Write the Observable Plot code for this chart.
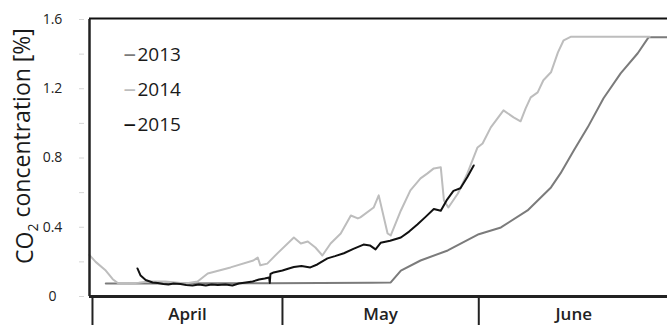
<!DOCTYPE html>
<html><head><meta charset="utf-8">
<script src="https://cdn.jsdelivr.net/npm/d3@7"></script>
<script src="https://cdn.jsdelivr.net/npm/@observablehq/plot@0.6"></script>
<style>body{margin:0;background:#fff}svg{display:block}</style>
</head><body><div id="chart"></div>
<script>
const years = ["2013", "2014", "2015"];
const colors = ["#7b7b7b", "#bdbdbd", "#111111"];

// day 0 = 1 April
const days2013 = [2.1, 10, 20, 28.1, 36, 44, 47.1, 48.7, 51.8, 56.1, 61.0, 64.5, 68.7, 72.4, 73.9, 76.0, 78.2, 80.7, 83.4, 86.1, 87.8, 90.8];
const co2_2013 = [0.075, 0.075, 0.076, 0.077, 0.078, 0.08, 0.081, 0.15, 0.208, 0.266, 0.36, 0.399, 0.497, 0.63, 0.711, 0.844, 0.977, 1.145, 1.289, 1.405, 1.497, 1.497];

const days2014 = [-0.5, 0.5, 2.1, 3.2, 4.1, 5.7, 7.3, 8.8, 11.5, 14.7, 16.6, 18.2, 21.8, 25.4, 26.1, 26.5, 27.6, 29.2, 31.8, 32.9, 34.0, 35.2, 36.3, 37.6, 39.2, 40.8, 41.9, 42.3, 44.4, 45.2, 46.6, 47.1, 48.7, 50.2, 51.8, 52.9, 53.9, 55.0, 55.5, 56.2, 57.7, 59.2, 60.8, 61.6, 62.9, 64.9, 66.5, 67.6, 68.4, 69.2, 70.3, 71.2, 72.4, 73.5, 74.4, 75.5, 88.0];
const co2_2014 = [0.24, 0.20, 0.15, 0.10, 0.075, 0.075, 0.08, 0.087, 0.087, 0.075, 0.087, 0.133, 0.168, 0.208, 0.225, 0.18, 0.19, 0.249, 0.341, 0.306, 0.318, 0.283, 0.237, 0.306, 0.364, 0.468, 0.451, 0.457, 0.514, 0.584, 0.364, 0.353, 0.497, 0.613, 0.682, 0.711, 0.74, 0.746, 0.555, 0.514, 0.595, 0.711, 0.861, 0.884, 0.977, 1.075, 1.035, 1.012, 1.087, 1.15, 1.179, 1.249, 1.295, 1.41, 1.48, 1.5, 1.5];

const days2015 = [7.1, 7.6, 8.4, 9.5, 10.3, 11.2, 12.0, 12.8, 13.9, 14.8, 15.8, 16.8, 17.9, 18.8, 19.8, 21.0, 22.1, 23.1, 24.2, 25.3, 26.3, 27.2, 27.9, 28.0, 28.1, 28.6, 30.0, 31.0, 31.8, 33.0, 34.4, 35.5, 37.1, 38.3, 39.7, 41.2, 42.8, 43.8, 44.7, 45.5, 47.0, 48.7, 50.0, 51.3, 52.6, 53.9, 55.0, 56.0, 57.0, 58.1, 59.2, 60.2];
const co2_2015 = [0.162, 0.121, 0.095, 0.081, 0.078, 0.072, 0.069, 0.075, 0.072, 0.066, 0.064, 0.069, 0.064, 0.069, 0.066, 0.069, 0.064, 0.075, 0.081, 0.087, 0.098, 0.104, 0.11, 0.078, 0.13, 0.139, 0.15, 0.162, 0.17, 0.176, 0.168, 0.185, 0.22, 0.233, 0.25, 0.275, 0.3, 0.295, 0.272, 0.31, 0.322, 0.341, 0.375, 0.416, 0.46, 0.505, 0.495, 0.56, 0.61, 0.625, 0.69, 0.757];

const months = ["April", "May", "June"];
const monthStarts = [0, 30, 61];
const monthMids = [15, 45.5, 76];
const yTicks = [0, 0.4, 0.8, 1.2, 1.6];
const yMinorTicks = [0, 0.2, 0.4, 0.6, 0.8, 1.0, 1.2, 1.4, 1.6];
const yLabel = "CO₂ concentration [%]";
const xDomain = [-0.47, 90.8];
const yDomain = [0, 1.6];

const series = [[days2013, co2_2013], [days2014, co2_2014], [days2015, co2_2015]];
const rows = [];
series.forEach(([ds, vs], i) => ds.forEach((d, j) => rows.push({year: years[i], day: d, co2: vs[j]})));

const legendMarks = [];
years.forEach((yr, i) => {
  legendMarks.push(Plot.text(["–"], {frameAnchor: "top-left", dx: 34, dy: 34 + 35 * i, fill: colors[i], fontSize: 25, textAnchor: "start", lineAnchor: "middle"}));
  legendMarks.push(Plot.text([yr], {frameAnchor: "top-left", dx: 48, dy: 35 + 35 * i, fill: "#1a1a1a", fontSize: 19, textAnchor: "start", lineAnchor: "middle"}));
});

const chart = Plot.plot({
  width: 667, height: 325,
  marginLeft: 89, marginRight: 0, marginTop: 19, marginBottom: 29,
  style: {fontFamily: "'Open Sans', sans-serif", background: "#fff"},
  x: {domain: xDomain, label: null},
  y: {domain: yDomain, label: null},
  color: {domain: years, range: colors},
  marks: [
    Plot.axisY(yMinorTicks, {label: null, tickSize: 5, dx: -5, tickFormat: () => "", stroke: "#d6d6d6"}),
    Plot.axisY(yTicks, {label: null, tickSize: 0, tickPadding: 0, dx: -37, textAnchor: "middle", tickFormat: d => d === 0 ? "0" : d.toFixed(1), fontSize: 14, fill: "#222"}),
    Plot.axisX(monthStarts, {label: null, tickSize: 29, tickFormat: () => "", stroke: "#222", strokeWidth: 2}),
    Plot.axisX(monthMids, {label: null, tickSize: 0, tickPadding: 11, tickFormat: d => months[monthMids.indexOf(d)], fontSize: 17, fontWeight: 600, fill: "#222"}),
    Plot.text([yLabel], {frameAnchor: "left", rotate: -90, dx: -64, dy: -12, textAnchor: "middle", fontSize: 23, fill: "#1a1a1a"}),
    Plot.line(rows, {x: "day", y: "co2", z: "year", stroke: "year", strokeWidth: 2}),
    Plot.ruleY([yDomain[1]], {stroke: "#111", strokeWidth: 2, dy: -1}),
    Plot.ruleY([yDomain[0]], {stroke: "#222", strokeWidth: 3}),
    Plot.ruleX([xDomain[0]], {stroke: "#222", strokeWidth: 2.5}),
    ...legendMarks
  ]
});

d3.select(chart).selectAll("text").each(function() {
  if (this.textContent === yLabel) {
    const t = d3.select(this);
    t.text(null);
    t.append("tspan").text("CO");
    t.append("tspan").attr("font-size", 14).attr("dy", "0.35em").text("2");
    t.append("tspan").attr("dy", "-0.35em").text(" concentration [%]");
  }
});
document.getElementById("chart").appendChild(chart);
</script>
</body></html>
